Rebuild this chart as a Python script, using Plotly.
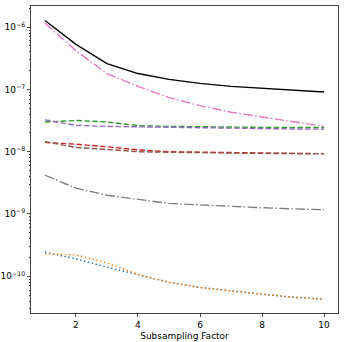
import plotly.graph_objects as go

factors = [1, 2, 3, 4, 5, 6, 7, 8, 9, 10]

err_blue = [2.45e-10, 1.9e-10, 1.4e-10, 1.05e-10, 8.0e-11, 6.6e-11, 5.8e-11, 5.1e-11, 4.6e-11, 4.3e-11]
err_orange = [2.3e-10, 2.2e-10, 1.65e-10, 1.07e-10, 8.0e-11, 6.6e-11, 5.8e-11, 5.1e-11, 4.6e-11, 4.3e-11]
err_green = [3.0e-8, 3.17e-8, 3.0e-8, 2.62e-8, 2.55e-8, 2.5e-8, 2.48e-8, 2.46e-8, 2.45e-8, 2.45e-8]
err_red = [1.41e-8, 1.32e-8, 1.2e-8, 1.07e-8, 1.0e-8, 9.8e-9, 9.6e-9, 9.5e-9, 9.4e-9, 9.3e-9]
err_purple = [3.25e-8, 2.65e-8, 2.55e-8, 2.5e-8, 2.45e-8, 2.4e-8, 2.37e-8, 2.35e-8, 2.32e-8, 2.3e-8]
err_brown = [1.45e-8, 1.17e-8, 1.09e-8, 1.0e-8, 9.8e-9, 9.6e-9, 9.5e-9, 9.4e-9, 9.35e-9, 9.3e-9]
err_pink = [1.16e-6, 4.2e-7, 1.8e-7, 1.12e-7, 7.4e-8, 5.5e-8, 4.3e-8, 3.6e-8, 3.1e-8, 2.55e-8]
err_gray = [4.2e-9, 2.6e-9, 2.0e-9, 1.7e-9, 1.48e-9, 1.4e-9, 1.32e-9, 1.26e-9, 1.21e-9, 1.17e-9]
err_black = [1.28e-6, 5.3e-7, 2.6e-7, 1.8e-7, 1.45e-7, 1.25e-7, 1.12e-7, 1.04e-7, 9.8e-8, 9.1e-8]

y_ticks = [1e-10, 1e-9, 1e-8, 1e-7, 1e-6]
y_labels = ["10<sup>−10</sup>", "10<sup>−9</sup>", "10<sup>−8</sup>", "10<sup>−7</sup>", "10<sup>−6</sup>"]

dot = "1.5px,2.5px"
dash = "5.5px,2.4px"
dashdot = "9.6px,2.4px,1.5px,2.4px"

series = [
    (err_blue, "#1f77b4", dot),
    (err_orange, "#ff7f0e", dot),
    (err_green, "#2ca02c", dash),
    (err_red, "#d62728", dash),
    (err_purple, "#9467bd", dash),
    (err_brown, "#8c564b", dash),
    (err_pink, "#e377c2", dashdot),
    (err_gray, "#7f7f7f", dashdot),
    (err_black, "black", "solid"),
]

fig = go.Figure()
for vals, col, d in series:
    fig.add_trace(go.Scatter(x=factors, y=vals, mode="lines",
                             line=dict(color=col, width=1.4, dash=d)))

fig.update_layout(
    width=345, height=342,
    margin=dict(l=31, r=7, t=6, b=29),
    paper_bgcolor="white", plot_bgcolor="white",
    showlegend=False,
    font=dict(family="DejaVu Sans", size=9, color="black"),
)
fig.update_xaxes(
    range=[0.55, 10.45], tickvals=[2, 4, 6, 8, 10],
    ticks="outside", ticklen=3, tickcolor="#444",
    showgrid=False, zeroline=False, automargin=False,
    showline=True, linecolor="#444", linewidth=1, mirror=True,
    title=dict(text="Subsampling Factor", standoff=3, font=dict(size=9)),
)
fig.update_yaxes(
    type="log", range=[-10.59, -5.66],
    tickvals=y_ticks, ticktext=y_labels,
    ticks="outside", ticklen=3, tickcolor="#444",
    minor=dict(ticks="outside", ticklen=1.5, tickcolor="#444",
               tickvals=[m * 10 ** e for e in range(-11, -5) for m in range(2, 10)]),
    showgrid=False, zeroline=False, automargin=False,
    showline=True, linecolor="#444", linewidth=1, mirror=True,
)

# page body has a default margin; drop it so the figure sits at the corner
fig.write_html("out.html", config={"displayModeBar": False},
               post_script="document.body.style.margin='0';")
